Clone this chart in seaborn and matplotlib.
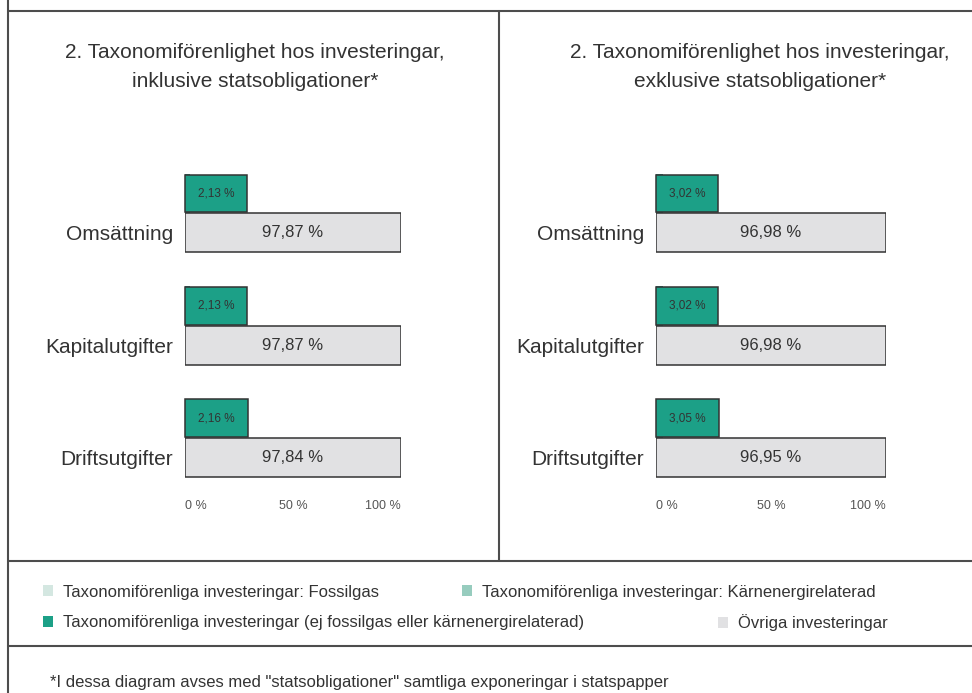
# Taxonomy alignment of investments, incl./excl. government bonds

import pandas as pd
import matplotlib.pyplot as plt
import seaborn as sns
from matplotlib.lines import Line2D
from matplotlib.patches import Patch

categories = ["Omsättning", "Kapitalutgifter", "Driftsutgifter"]

incl_aligned = [2.13, 2.13, 2.16]
incl_other = [97.87, 97.87, 97.84]
excl_aligned = [3.02, 3.02, 3.05]
excl_other = [96.98, 96.98, 96.95]

titles = [
    "2. Taxonomiförenlighet hos investeringar,\ninklusive statsobligationer*",
    "2. Taxonomiförenlighet hos investeringar,\nexklusive statsobligationer*",
]
x_ticks = [0, 50, 100]
x_tick_labels = ["0 %", "50 %", "100 %"]

legend_labels = [
    "Taxonomiförenliga investeringar: Fossilgas",
    "Taxonomiförenliga investeringar: Kärnenergirelaterad",
    "Taxonomiförenliga investeringar (ej fossilgas eller kärnenergirelaterad)",
    "Övriga investeringar",
]
legend_colors = ["#d4e7e1", "#97ccbe", "#1ca087", "#e1e1e3"]

footnote = '*I dessa diagram avses med "statsobligationer" samtliga exponeringar i statspapper'

GREEN = "#1ca087"
GREY = "#e1e1e3"
EDGE = "#333333"
TEXT = "#333333"
LINE = "#4d4d4d"

W, H = 972, 693

sns.set_style("white")
plt.rcParams["font.family"] = ["Liberation Sans", "DejaVu Sans"]


def fmt(v):
    return f"{v:.2f}".replace(".", ",") + " %"


def rect(x0, x1, y0, y1):
    return [x0 / W, 1 - y1 / H, (x1 - x0) / W, (y1 - y0) / H]


def draw_panel(ax, aligned, other):
    # grey row is drawn as the cumulative total (aligned + other) so it reaches 100 %
    df = pd.DataFrame({
        "kategori": categories * 2,
        "serie": ["aligned"] * len(categories) + ["other"] * len(categories),
        "varde": aligned + [a + o for a, o in zip(aligned, other)],
    })
    sns.barplot(data=df, y="kategori", x="varde", hue="serie", orient="h",
                palette=[GREEN, GREY], width=0.7, dodge=True, errorbar=None,
                edgecolor=EDGE, linewidth=1.1, legend=False, ax=ax)

    green_bars, grey_bars = ax.containers[0], ax.containers[1]

    ax.bar_label(grey_bars, labels=[fmt(v) for v in other], label_type="center",
                 fontsize=12, color=TEXT)

    # the small green share gets a boxed label that sits over its (thin) bar
    for bar, v in zip(green_bars, aligned):
        bar.set_edgecolor("none")
        yc = bar.get_y() + bar.get_height() / 2
        ax.annotate(fmt(v), xy=(0, yc), xytext=(9.3, 0), textcoords="offset points",
                    ha="left", va="center", fontsize=8.5, color=TEXT, zorder=5,
                    bbox=dict(boxstyle="square,pad=1.1", fc=GREEN, ec=EDGE, lw=1.1))

    centers = [b.get_y() + b.get_height() / 2 for b in grey_bars]
    ax.set_yticks(centers, categories)
    ax.set_ylim(len(categories) - 0.5, -0.5)
    ax.tick_params(axis="y", length=0, pad=8.6, labelsize=15, labelcolor=TEXT)

    ax.set_xlim(0, 100)
    ax.set_xticks(x_ticks, x_tick_labels)
    ax.tick_params(axis="x", length=0, pad=4, labelsize=9, labelcolor="#555555")
    for lbl, ha in zip(ax.get_xticklabels(), ["left", "center", "right"]):
        lbl.set_ha(ha)

    ax.set_xlabel("")
    ax.set_ylabel("")
    sns.despine(ax=ax, left=True, bottom=True)


fig = plt.figure(figsize=(W / 100, H / 100), dpi=100)

ax1 = fig.add_axes(rect(185, 401, 157, 494))
ax2 = fig.add_axes(rect(656, 886, 157, 494))
draw_panel(ax1, incl_aligned, incl_other)
draw_panel(ax2, excl_aligned, excl_other)

fig.text(255 / W, 1 - 67 / H, titles[0], ha="center", va="center",
         fontsize=15, linespacing=1.65, color=TEXT)
fig.text(760 / W, 1 - 67 / H, titles[1], ha="center", va="center",
         fontsize=15, linespacing=1.65, color=TEXT)

# frame lines
frame = [((8, 0), (8, H)), ((8, 11), (W, 11)), ((499, 11), (499, 561)),
         ((8, 561), (W, 561)), ((8, 646), (W, 646))]
for (x0, y0), (x1, y1) in frame:
    fig.add_artist(Line2D([x0 / W, x1 / W], [1 - y0 / H, 1 - y1 / H], color=LINE, lw=1.5))

# legend entries
positions = [(43, 592), (462, 592), (43, 623), (718, 623)]
for lab, col, (x, y) in zip(legend_labels, legend_colors, positions):
    fig.legend(handles=[Patch(fc=col, ec="none")], labels=[lab], loc="center left",
               bbox_to_anchor=(x / W, 1 - y / H), frameon=False, fontsize=12,
               handlelength=0.6, handleheight=0.6, handletextpad=0.6,
               borderpad=0, borderaxespad=0, labelcolor=TEXT)

fig.text(50 / W, 1 - 682 / H, footnote, ha="left", va="center", fontsize=12, color=TEXT)

fig.savefig("out.png", dpi=100)
plt.close(fig)
